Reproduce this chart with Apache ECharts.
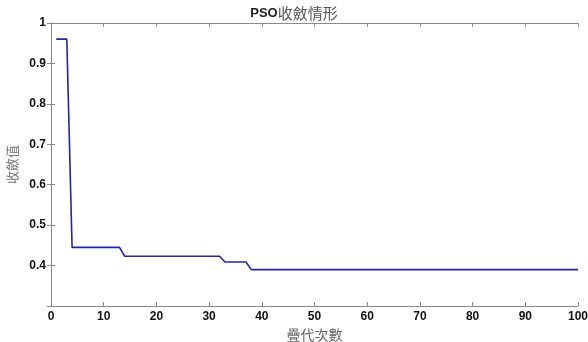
<!DOCTYPE html>
<html>
<head>
<meta charset="utf-8">
<script src="https://cdn.jsdelivr.net/npm/echarts@6/dist/echarts.min.js"></script>
<style>html,body{margin:0;padding:0;background:#fff;}#c{width:588px;height:342px;}</style>
</head>
<body>
<div id="c"></div>
<script>
// change points of the convergence curve (iteration, best value)
const iterations = [1, 3, 4, 13, 14, 32, 33, 37, 38, 100];
const fitness = [0.96, 0.96, 0.445, 0.445, 0.423, 0.423, 0.409, 0.409, 0.390, 0.390];
const xTicks = [0, 10, 20, 30, 40, 50, 60, 70, 80, 90, 100];
const yTickLabels = ['', '0.4', '0.5', '0.6', '0.7', '0.8', '0.9', '1'];
const xName = '疊代次數';
const yName = '收斂值';

const chart = echarts.init(document.getElementById('c'));
const axisColor = '#8a8a8a';
const tickFont = {fontFamily: 'Liberation Sans, Arial, sans-serif', fontSize: 12, fontWeight: 'bold', color: '#111'};
const baseX = {type: 'value', min: xTicks[0], max: xTicks[xTicks.length - 1], interval: 10,
  axisLine: {show: true, lineStyle: {color: axisColor, width: 1}},
  axisTick: {show: true, inside: true, length: 4, lineStyle: {color: axisColor}},
  splitLine: {show: false}};
const baseY = {type: 'value', min: 0.3, max: 1, interval: 0.1,
  axisLine: {show: true, lineStyle: {color: axisColor, width: 1}},
  axisTick: {show: true, inside: true, length: 4, lineStyle: {color: axisColor}},
  splitLine: {show: false}};

chart.setOption({
  animation: false,
  backgroundColor: '#fff',
  title: {
    text: '{a|PSO}{b|收斂情形}',
    left: 'center', top: 1,
    textStyle: {rich: {
      a: {fontFamily: 'Liberation Sans, Arial, sans-serif', fontSize: 13, fontWeight: 'bold', color: '#222'},
      b: {fontFamily: 'Noto Sans CJK TC', fontSize: 15, fontWeight: 'normal', color: '#555'}
    }}
  },
  grid: {left: 51, right: 10, top: 23, bottom: 36, containLabel: false, outerBoundsMode: 'none'},
  xAxis: [
    Object.assign({}, baseX, {position: 'bottom',
      name: xName, nameLocation: 'middle', nameGap: 15,
      nameTextStyle: {fontFamily: 'Noto Sans CJK TC', fontSize: 14, color: '#666'},
      axisLabel: Object.assign({margin: 5, showMinLabel: true, showMaxLabel: true}, tickFont)}),
    Object.assign({}, baseX, {position: 'top', axisLabel: {show: false}})
  ],
  yAxis: [
    Object.assign({}, baseY, {position: 'left',
      name: yName, nameLocation: 'middle', nameGap: 30,
      nameTextStyle: {fontFamily: 'Noto Sans CJK TC', fontSize: 13, color: '#777'},
      axisLabel: Object.assign({margin: 5, formatter: function (v) {
        const i = Math.round((v - 0.3) * 10);
        return yTickLabels[i] !== undefined ? yTickLabels[i] : '';
      }}, tickFont)}),
    Object.assign({}, baseY, {position: 'right', axisLabel: {show: false}})
  ],
  series: [{
    type: 'line',
    data: iterations.map((x, i) => [x, fitness[i]]),
    showSymbol: false,
    lineStyle: {color: '#2424aa', width: 1.6},
    xAxisIndex: 0, yAxisIndex: 0
  }]
});
</script>
</body>
</html>
